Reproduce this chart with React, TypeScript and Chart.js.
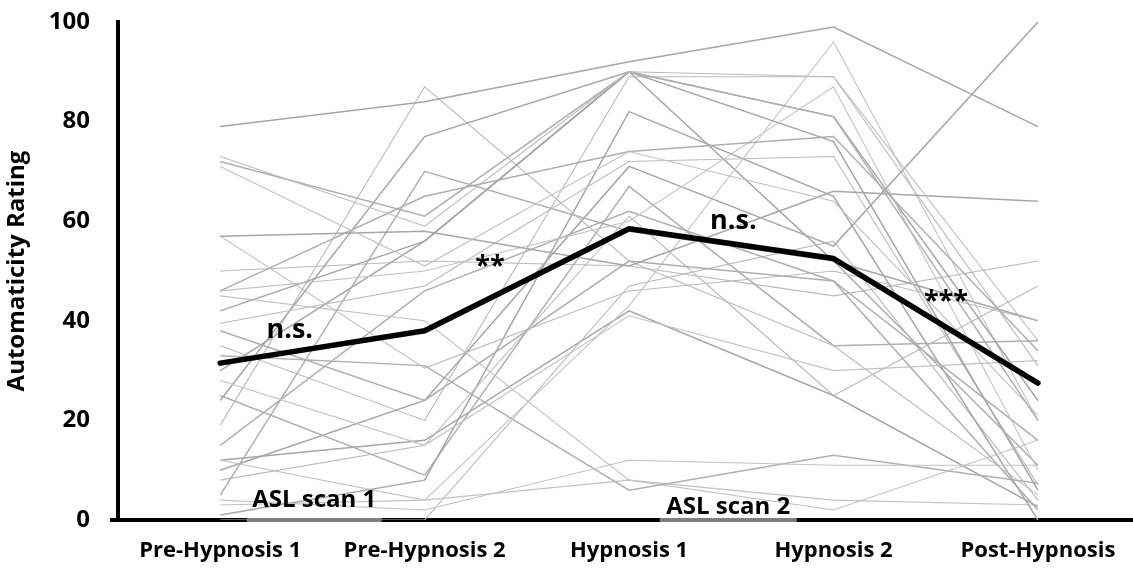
import { useEffect, useRef } from 'react';
import { Chart, registerables } from 'chart.js';

Chart.register(...registerables);

const FONT = '"Open Sans", "DejaVu Sans", sans-serif';

const categories = ['Pre-Hypnosis 1', 'Pre-Hypnosis 2', 'Hypnosis 1', 'Hypnosis 2', 'Post-Hypnosis'];
const yTicks = [0, 20, 40, 60, 80, 100];
const meanRatings = [31.5, 38, 58.5, 52.5, 27.5];

// individual participants' ratings (Pre-1, Pre-2, Hyp-1, Hyp-2, Post)
const subjectRatings = [
  [79, 84, 92, 99, 79],
  [73, 59, 90, 89, 36],
  [72, 61, 90, 81, 20],
  [71, 51, 74, 64, 21],
  [57, 58, 51, 66, 64],
  [57, 30.5, 46, 50, 40],
  [46, 65, 74, 77, 34],
  [46, 50, 60, 87, 10],
  [42, 56, 90, 76, 6],
  [39.5, 47, 72, 73, 7],
  [38, 24, 52, 48, 16],
  [28, 15, 41, 30, 32],
  [24, 77, 90, 81, 24],
  [19, 87, 52, 35, 5],
  [15, 46, 62, 48, 2],
  [12, 4, 43, 96, 20],
  [10, 24, 71, 55, 100],
  [8, 15, 61, 25, 47],
  [5, 70, 58, 52, 11],
  [4, 2, 12, 11, 11],
  [1, 8, 82, 65, 0],
  [0, 0, 47, 56, 4],
  [33, 31, 6, 13, 7.4],
  [45, 40, 8, 4, 3],
  [12, 16, 42, 25, 2.7],
  [35, 20, 89, 89, 31],
  [25, 9, 67, 35, 36],
  [3, 4, 8, 2, 16],
  [30, 56, 90, 52, 40],
  [50, 52, 51, 45, 52],
];

const sigLabels = ['n.s.', '**', 'n.s.', '***'];
const sigAtX = [0.34, 1.32, 2.51, 3.55];
const sigAtY = [38, 51, 60, 44];

const scanLabels = ['ASL scan 1', 'ASL scan 2'];
const scanFrom = [0.13, 2.15];
const scanTo = [0.79, 2.82];
const scanLabelY = [4, 2.5];

const greyShades = ['#a6a6a6', '#bababa', '#afafaf', '#c2c2c2'];

export default function App() {
  const ref = useRef<HTMLCanvasElement>(null);

  useEffect(() => {
    document.body.style.margin = '0';
    const canvas = ref.current!;

    const overlay = {
      id: 'overlay',
      afterDatasetsDraw(chart: any) {
        const { ctx, scales } = chart;
        const xs = scales.x;
        const ys = scales.y;
        ctx.save();
        ctx.fillStyle = '#000';
        ctx.textAlign = 'center';
        ctx.textBaseline = 'middle';
        ctx.font = `bold 27px ${FONT}`;
        sigLabels.forEach((t, i) => {
          ctx.fillText(t, xs.getPixelForValue(sigAtX[i]), ys.getPixelForValue(sigAtY[i]));
        });
        ctx.font = `bold 24px ${FONT}`;
        scanLabels.forEach((t, i) => {
          const cx = (xs.getPixelForValue(scanFrom[i]) + xs.getPixelForValue(scanTo[i])) / 2;
          ctx.fillText(t, cx, ys.getPixelForValue(scanLabelY[i]));
        });
        ctx.restore();
      },
      afterDraw(chart: any) {
        const { ctx, scales, chartArea } = chart;
        const xs = scales.x;
        const y0 = scales.y.getPixelForValue(0);
        ctx.save();
        ctx.lineWidth = 4;
        ctx.strokeStyle = '#000';
        ctx.beginPath();
        ctx.moveTo(chartArea.left - 8, y0);
        ctx.lineTo(chartArea.left, y0);
        ctx.stroke();
        ctx.strokeStyle = '#7f7f7f';
        scanFrom.forEach((f, i) => {
          ctx.beginPath();
          ctx.moveTo(xs.getPixelForValue(f), y0);
          ctx.lineTo(xs.getPixelForValue(scanTo[i]), y0);
          ctx.stroke();
        });
        ctx.restore();
      },
    };

    const datasets: any[] = subjectRatings.map((vals, i) => ({
      label: `S${i + 1}`,
      data: vals.map((v, j) => ({ x: j, y: v })),
      borderColor: greyShades[i % greyShades.length],
      borderWidth: i % 2 === 0 ? 1.5 : 1.1,
      pointRadius: 0,
      tension: 0,
      order: 2,
    }));
    datasets.push({
      label: 'Mean',
      data: meanRatings.map((v, j) => ({ x: j, y: v })),
      borderColor: '#000',
      borderWidth: 5.5,
      borderCapStyle: 'round',
      borderJoinStyle: 'round',
      pointRadius: 0,
      tension: 0,
      order: 1,
    });

    const chart = new Chart(canvas, {
      type: 'line',
      data: { datasets },
      options: {
        animation: false,
        responsive: false,
        layout: { padding: { top: 22, right: 0, left: 0, bottom: 0 } },
        plugins: { legend: { display: false }, tooltip: { enabled: false } },
        scales: {
          x: {
            type: 'linear',
            min: -0.5,
            max: 4.465,
            grid: { display: false, drawTicks: false },
            border: { display: true, color: '#000', width: 4 },
            afterBuildTicks: (s: any) => {
              s.ticks = categories.map((_, i) => ({ value: i }));
            },
            afterFit: (s: any) => {
              s.height = 53;
              s.paddingLeft = 0;
              s.paddingRight = 0;
            },
            ticks: {
              autoSkip: false,
              maxRotation: 0,
              padding: 18,
              color: '#000',
              font: { family: FONT, size: 22, weight: 'bold' },
              callback: (v: any) => categories[v as number] ?? '',
            },
          },
          y: {
            min: 0,
            max: 100,
            grid: { display: false, drawTicks: false },
            border: { display: true, color: '#000', width: 4 },
            afterBuildTicks: (s: any) => {
              s.ticks = yTicks.map((v) => ({ value: v }));
            },
            afterFit: (s: any) => {
              s.width = 118;
              s.paddingTop = 0;
              s.paddingBottom = 0;
            },
            ticks: {
              padding: 28,
              color: '#000',
              font: { family: FONT, size: 24, weight: 'bold' },
            },
            title: {
              display: true,
              text: 'Automaticity Rating',
              color: '#000',
              padding: { top: 3, bottom: 0 },
              font: { family: FONT, size: 24, weight: 'bold' },
            },
          },
        },
      },
      plugins: [overlay],
    });

    return () => chart.destroy();
  }, []);

  return <canvas ref={ref} width={1133} height={573} style={{ display: 'block' }} />;
}
